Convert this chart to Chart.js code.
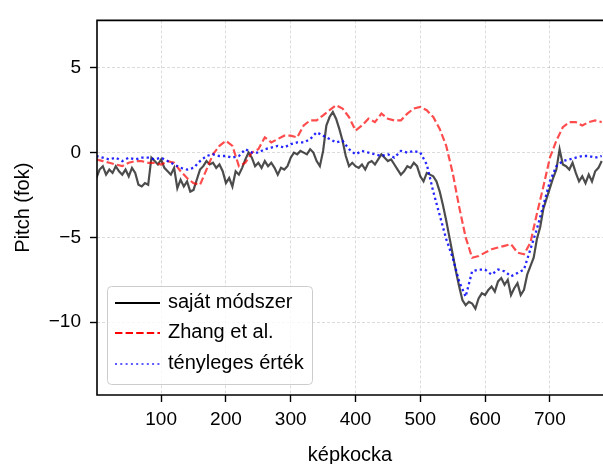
<!DOCTYPE html>
<html>
<head>
<meta charset="utf-8">
<script src="https://cdn.jsdelivr.net/npm/chart.js@4.4.0/dist/chart.umd.min.js"></script>
<style>
  html, body { margin: 0; padding: 0; background: #fff; }
</style>
</head>
<body>
<canvas id="chart" width="603" height="464"></canvas>
<script>
// képkocka indexek
const blackFrames = [0,5,10,15,20,25,30,35,40,45,50,55,60,65,70,75,80,85,90,95,
  100,105,110,115,120,125,130,135,140,145,150,155,160,165,170,175,180,185,190,195,
  200,205,210,215,220,225,230,235,240,245,250,255,260,265,270,275,280,285,290,295,
  300,305,310,315,320,325,330,335,340,345,350,355,360,365,370,375,380,385,390,395,
  400,405,410,415,420,425,430,435,440,445,450,455,460,465,470,475,480,485,490,495,
  500,505,510,515,520,525,530,535,540,545,550,555,560,565,570,575,580,585,590,595,
  600,605,610,615,620,625,630,635,640,645,650,655,660,665,670,675,680,685,690,695,
  700,705,710,715,720,725,730,735,740,745,750,755,760,765,770,775,780];
const otherFrames = [0,10,20,30,40,50,60,70,80,90,100,110,120,130,140,150,160,170,180,190,
  200,210,220,230,240,250,260,270,280,290,300,310,320,330,340,350,360,370,380,390,
  400,410,420,430,440,450,460,470,480,490,500,510,520,530,540,550,560,570,580,590,
  600,610,620,630,640,650,660,670,680,690,700,710,720,730,740,750,760,770,780];

// saját módszer
const ownMethod = [-1.5,-1.0,-0.8,-1.3,-1.0,-1.2,-0.8,-1.1,-1.3,-1.0,-1.4,-0.9,-1.2,-1.9,-2.0,-1.8,-1.9,-0.3,-0.5,-0.7,
  -0.4,-0.9,-1.1,-1.3,-0.9,-2.1,-1.6,-2.0,-1.7,-2.3,-2.2,-1.6,-1.0,-0.8,-0.5,-0.7,-0.6,-0.9,-0.7,-1.1,
  -1.8,-1.5,-2.0,-1.1,-1.3,-0.9,-0.4,0.0,-0.3,-0.8,-0.6,-0.9,-0.5,-0.8,-0.6,-0.9,-1.3,-0.9,-1.0,-0.8,
  -0.3,0.0,-0.1,0.1,0.0,-0.1,0.2,0.0,-0.5,-0.8,0.1,1.6,2.1,2.4,2.0,1.4,0.7,-0.2,-0.8,-0.6,
  -0.8,-0.9,-0.7,-1.0,-0.6,-0.5,-0.7,-0.4,-0.1,-0.3,-0.5,-0.4,-0.7,-1.0,-1.3,-1.1,-0.8,-0.9,-0.6,-0.8,
  -1.4,-1.7,-1.2,-1.3,-1.4,-1.7,-2.3,-3.1,-4.0,-5.0,-6.0,-7.0,-7.9,-8.7,-9.0,-8.8,-8.9,-9.2,-8.6,-8.3,
  -8.4,-8.1,-7.9,-8.2,-7.6,-7.4,-7.8,-7.5,-8.4,-8.0,-7.7,-8.4,-8.1,-7.2,-6.7,-6.2,-5.1,-4.4,-3.3,-2.7,
  -2.1,-1.5,-1.0,0.2,-0.7,-0.8,-1.0,-0.6,-1.2,-1.7,-1.4,-1.8,-1.3,-1.7,-1.1,-0.9,-0.5];

// Zhang et al.
const zhang = [-0.4,-0.5,-0.6,-0.7,-0.8,-0.6,-0.5,-0.5,-0.6,-0.6,
  -0.7,-0.5,-0.6,-1.1,-1.5,-1.8,-1.9,-1.0,-0.1,0.4,
  0.7,0.4,-0.8,-0.6,0.0,0.2,0.9,0.6,0.8,1.0,
  1.0,0.9,1.6,1.9,1.9,2.2,2.5,2.8,2.6,2.1,
  1.3,1.6,2.0,1.8,2.3,2.0,1.9,1.9,2.3,2.6,
  2.7,2.5,2.1,1.4,0.4,-1.2,-3.2,-5.0,-6.2,-6.1,
  -5.9,-5.7,-5.6,-5.5,-5.4,-5.9,-6.0,-5.3,-3.6,-2.0,
  -0.3,0.7,1.5,1.8,1.8,1.6,1.8,1.9,1.8];

// tényleges érték
const groundTruth = [-0.2,-0.3,-0.4,-0.3,-0.5,-0.3,-0.4,-0.3,-0.3,-0.4,
  -0.3,-0.5,-0.7,-0.9,-1.0,-0.9,-0.5,-0.2,-0.1,-0.2,
  -0.2,-0.3,-0.2,0.2,0.0,0.0,0.2,0.3,0.4,0.3,
  0.5,0.6,0.6,0.8,1.2,1.0,0.8,0.6,0.7,0.2,
  -0.1,0.1,0.0,-0.1,-0.2,-0.1,-0.3,0.1,0.0,0.1,
  0.0,-0.7,-2.3,-3.7,-5.1,-6.2,-7.6,-8.5,-7.0,-6.9,
  -6.9,-7.2,-6.9,-7.0,-7.3,-7.1,-6.9,-5.7,-4.5,-3.1,
  -1.7,-0.8,-0.5,-0.4,-0.3,-0.2,-0.2,-0.3,-0.2];

const xTicks = [100, 200, 300, 400, 500, 600, 700];
const yTicks = [-10, -5, 0, 5];

const legendItems = [
  { label: 'saját módszer', color: '#000000', dash: [] },
  { label: 'Zhang et al.', color: '#ff0000', dash: [7.4, 3.2] },
  { label: 'tényleges érték', color: 'rgba(0,0,255,0.65)', dash: [2, 3.3] }
];

function toPoints(xs, ys) {
  return xs.map((x, i) => ({ x: x, y: ys[i] }));
}

const FONT = "'Liberation Sans', Arial, sans-serif";
Chart.defaults.font.family = FONT;
Chart.defaults.color = '#000';

// keret + jelmagyarázat a rajzterületen belül
const frameAndLegend = {
  id: 'frameAndLegend',
  afterDatasetsDraw(chart) {
    const ctx = chart.ctx;
    const a = chart.chartArea;
    ctx.save();
    ctx.strokeStyle = '#000';
    ctx.lineWidth = 1.6;
    ctx.beginPath();
    ctx.moveTo(a.right + 2, a.top);
    ctx.lineTo(a.left, a.top);
    ctx.lineTo(a.left, a.bottom);
    ctx.lineTo(a.right + 2, a.bottom);
    ctx.stroke();

    const bx = a.left + 10, by = a.bottom - 109, bw = 205, bh = 98;
    ctx.beginPath();
    ctx.roundRect(bx + 0.5, by + 0.5, bw, bh, 4);
    ctx.fillStyle = 'rgba(255,255,255,0.8)';
    ctx.fill();
    ctx.strokeStyle = '#cccccc';
    ctx.lineWidth = 1;
    ctx.stroke();

    const rows = [17, 47, 78];
    ctx.font = '20px ' + FONT;
    ctx.textBaseline = 'middle';
    ctx.textAlign = 'left';
    legendItems.forEach((item, i) => {
      const y = by + rows[i];
      ctx.beginPath();
      ctx.setLineDash(item.dash);
      ctx.strokeStyle = item.color;
      ctx.lineWidth = 2;
      ctx.moveTo(bx + 8, y);
      ctx.lineTo(bx + 53, y);
      ctx.stroke();
      ctx.setLineDash([]);
      ctx.fillStyle = '#000';
      ctx.fillText(item.label, bx + 61, y - 1);
    });
    ctx.restore();
  }
};

const minus = v => String(v).replace('-', '\u2212');

new Chart('chart', {
  type: 'line',
  data: {
    datasets: [
      {
        label: 'tényleges érték',
        data: toPoints(otherFrames, groundTruth),
        borderColor: 'rgba(0,0,255,0.85)',
        borderWidth: 2.3,
        borderDash: [2.3, 3],
        pointRadius: 0,
        tension: 0,
        order: 1
      },
      {
        label: 'Zhang et al.',
        data: toPoints(otherFrames, zhang),
        borderColor: 'rgba(255,0,0,0.7)',
        borderWidth: 2.2,
        borderDash: [7.4, 3.2],
        pointRadius: 0,
        tension: 0,
        order: 2
      },
      {
        label: 'saját módszer',
        data: toPoints(blackFrames, ownMethod),
        borderColor: 'rgba(0,0,0,0.7)',
        borderWidth: 2.2,
        pointRadius: 0,
        tension: 0,
        order: 3
      }
    ]
  },
  options: {
    responsive: false,
    animation: false,
    layout: { padding: { top: 15, right: 0, left: 0, bottom: 0 } },
    plugins: {
      legend: { display: false },
      tooltip: { enabled: false }
    },
    scales: {
      x: {
        type: 'linear',
        min: 1,
        max: 782,
        afterBuildTicks: s => { s.ticks = xTicks.map(v => ({ value: v })); },
        afterFit: s => { s.height = 69; },
        ticks: { font: { size: 19 }, padding: 6, maxRotation: 0, includeBounds: false },
        grid: {
          color: 'rgba(0,0,0,0.18)',
          lineWidth: 0.8,
          tickColor: '#000',
          tickLength: 7,
          tickWidth: 1.4,
          tickBorderDash: []
        },
        border: { display: false, dash: [3, 2] },
        title: { display: true, text: 'képkocka', font: { size: 20 }, padding: { top: 0, bottom: -3 } }
      },
      y: {
        min: -14.3,
        max: 7.8,
        afterBuildTicks: s => { s.ticks = yTicks.map(v => ({ value: v })); },
        afterFit: s => { s.width = 97; },
        ticks: { font: { size: 19 }, padding: 9, callback: v => minus(v), includeBounds: false },
        grid: {
          color: 'rgba(0,0,0,0.18)',
          lineWidth: 0.8,
          tickColor: '#000',
          tickLength: 7,
          tickWidth: 1.4,
          tickBorderDash: []
        },
        border: { display: false, dash: [3, 2] },
        title: { display: true, text: 'Pitch (fok)', font: { size: 20 }, padding: { top: 11, bottom: 0 } }
      }
    }
  },
  plugins: [frameAndLegend]
});
</script>
</body>
</html>
